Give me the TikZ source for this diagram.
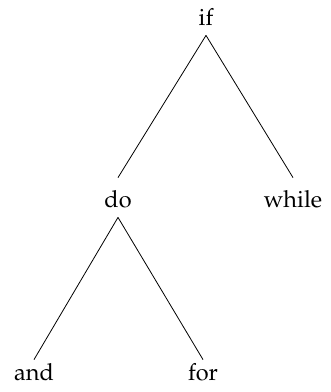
\documentclass[tikz,border=0pt]{standalone}
\usepackage[T1]{fontenc}
\usepackage{mathpazo}
\usepackage{tikz}
\usetikzlibrary{positioning}

\begin{document}
\begin{tikzpicture}[x=0.5pt,y=-0.5pt,
  kw/.style={anchor=base,inner sep=3.5pt,text height=11pt,text depth=1.5pt,font=\fontsize{11.75}{14}\selectfont},
  kwleaf/.style={kw,text height=6.5pt},
  link/.style={thin}]
\useasboundingbox (0,0) rectangle (331,392);
\node[kw] (if) at (206,25) {if};
\node[kw] (do) at (118,207) {do};
\node[kw] (while) at (293,207) {while};
\node[kwleaf] (and) at (34,380) {and};
\node[kwleaf] (for) at (203,380) {for};
\draw[link] (if.south) -- (do.north);
\draw[link] (if.south) -- (while.north);
\draw[link] (do.south) -- (and.north);
\draw[link] (do.south) -- (for.north);
\end{tikzpicture}
\end{document}
